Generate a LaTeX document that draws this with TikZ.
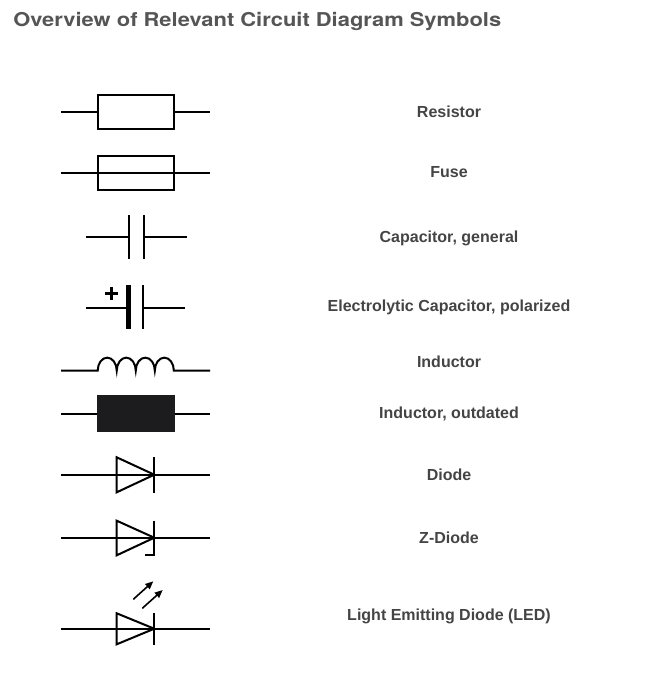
\documentclass[tikz,border=0pt]{standalone}
\usepackage{fontspec}
\setmainfont{Liberation Sans}
\newfontfamily\titlefont[FakeStretch=1.15]{TeX Gyre Heros}
\usetikzlibrary{arrows.meta}
\definecolor{titlegray}{HTML}{555555}
\definecolor{labelgray}{HTML}{444444}
\definecolor{coilblack}{HTML}{1C1C1E}

\tikzset{
  wire/.style={line width=1.5pt},
  part/.style={draw, line width=1.5pt, minimum width=57pt, minimum height=25.5pt, inner sep=0pt},
  label/.style={text=labelgray, font=\fontsize{12}{14}\selectfont\bfseries},
}

\begin{document}
\begin{tikzpicture}[x=0.75pt,y=-0.75pt]
\useasboundingbox (0,0) rectangle (651,693);

% title
\node[anchor=base west, inner sep=0pt, text=titlegray, font=\titlefont\fontsize{14.3}{17}\selectfont\bfseries] (title) at (13,26) {Overview of Relevant Circuit Diagram Symbols};

% resistor
\coordinate (resL) at (61,112);
\coordinate (resR) at (210,112);
\node[part] (res) at (136,112) {};
\draw[wire] (resL) -- (res.west) (res.east) -- (resR);
\node[label] (resT) at (449,112) {Resistor};

% fuse: wire runs through the box
\coordinate (fuseL) at (61,172.7);
\coordinate (fuseR) at (210,172.7);
\node[part] (fuse) at (136,172.7) {};
\draw[wire] (fuseL) -- (fuseR);
\node[label] (fuseT) at (449,172) {Fuse};

% capacitor, general
\coordinate (capL) at (86,237);
\coordinate (capR) at (186.5,237);
\draw[wire] (129,215) coordinate (capA) -- (129,259.3);
\draw[wire] (143.7,215) coordinate (capB) -- (143.7,259.3);
\draw[wire] (capL) -- (129,237) (143.7,237) -- (capR);
\node[label] (capT) at (449,238) {Capacitor, general};

% electrolytic capacitor
\coordinate (elcL) at (86,307.7);
\coordinate (elcR) at (184.7,307.7);
\draw[line width=3.5pt] (128.3,285) -- (128.3,329.3);
\draw[wire] (142.7,285) -- (142.7,329.3);
\draw[wire] (elcL) -- (128.3,307.7) (142.7,307.7) -- (elcR);
\draw[line width=2.4pt] (105,293.5) -- (118.3,293.5) (111.7,287) -- (111.7,300);
\node[label] (elcT) at (449,307) {Electrolytic Capacitor, polarized};

% inductor
\coordinate (indL) at (61,370.7);
\coordinate (indR) at (210,370.7);
\draw[wire] (indL) -- (97.7,370.7)
  arc[start angle=180, end angle=0, x radius=7.14pt, y radius=9.8pt]
  arc[start angle=180, end angle=0, x radius=7.14pt, y radius=9.8pt]
  arc[start angle=180, end angle=0, x radius=7.14pt, y radius=9.8pt]
  arc[start angle=180, end angle=0, x radius=7.14pt, y radius=9.8pt]
  -- (indR);
\node[label] (indT) at (449,362) {Inductor};

% inductor, outdated
\coordinate (oldL) at (61,413.5);
\coordinate (oldR) at (210,413.5);
\node[part, fill=coilblack, draw=coilblack, minimum width=57.5pt, minimum height=26pt] (old) at (136,413.8) {};
\draw[wire] (oldL) -- (old.west |- oldL) (old.east |- oldR) -- (oldR);
\node[label] (oldT) at (449,414) {Inductor, outdated};

% diode
\coordinate (diL) at (61,474.7);
\coordinate (diR) at (210,474.7);
\draw[wire] (diL) -- (diR);
\draw[wire, line join=miter] (116.7,457.3) -- (116.7,492.3) -- (154.3,474.7) -- cycle;
\draw[wire] (154.3,457) -- (154.3,492.5);
\node[label] (diT) at (449,475) {Diode};

% z-diode
\coordinate (zdL) at (61,537.7);
\coordinate (zdR) at (210,537.7);
\draw[wire] (zdL) -- (zdR);
\draw[wire, line join=miter] (116.7,520.7) -- (116.7,555.3) -- (154.3,537.7) -- cycle;
\draw[wire] (154.3,520.5) -- (154.3,555.3) -- (145,555.3);
\node[label] (zdT) at (449,538) {Z-Diode};

% led
\coordinate (ledL) at (61,628.7);
\coordinate (ledR) at (210,628.7);
\draw[wire] (ledL) -- (ledR);
\draw[wire, line join=miter] (116.7,613.3) -- (116.7,644.3) -- (154.3,628.7) -- cycle;
\draw[wire] (154.3,613) -- (154.3,644.5);
\draw[line width=1.2pt, -{Triangle[length=6pt,width=5pt]}] (133.3,599.3) -- (153.3,581.3);
\draw[line width=1.2pt, -{Triangle[length=6pt,width=5pt]}] (142.3,608.3) -- (162.7,590);
\node[label] (ledT) at (449,616) {Light Emitting Diode (LED)};

\end{tikzpicture}
\end{document}
